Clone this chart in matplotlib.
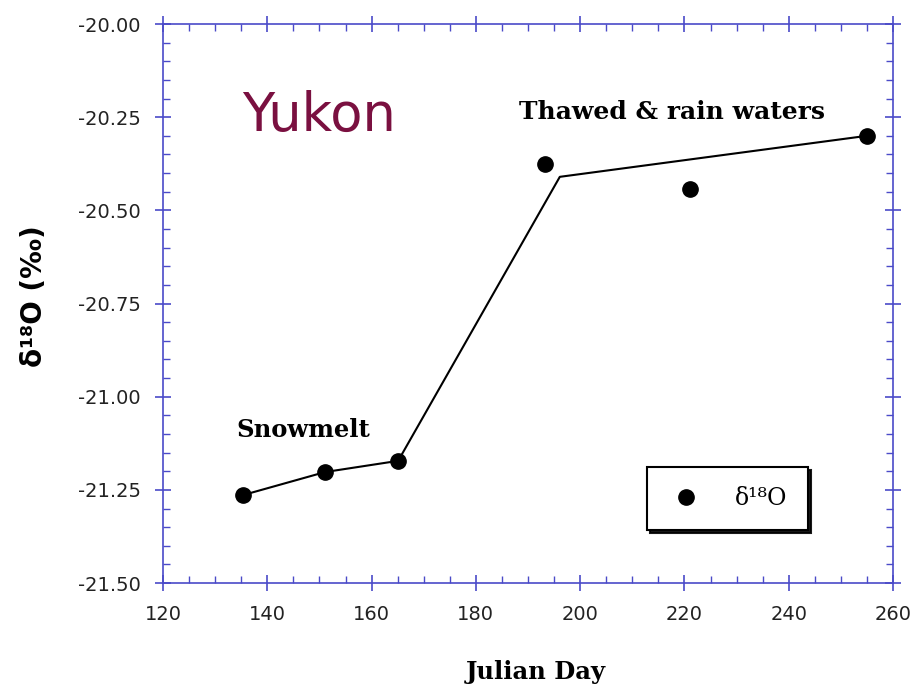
import matplotlib
matplotlib.use("Agg")
import matplotlib.pyplot as plt
from matplotlib.ticker import MultipleLocator, FormatStrFormatter

# Data
days = [135.3, 151.1, 165.1, 193.3, 221.0, 255.0]
d18o = [-21.264, -21.202, -21.172, -20.376, -20.443, -20.300]
fit_days = [135.3, 151.1, 165.1, 196.1, 255.0]
fit_d18o = [-21.264, -21.202, -21.172, -20.41, -20.300]

axis_color = "#4a4ac8"
serif = ["DejaVu Serif"]
sans = ["DejaVu Sans"]

fig = plt.figure(figsize=(9.23, 6.86), dpi=100)
ax = fig.add_axes([0.1766, 0.150, 0.7909, 0.815])

ax.plot(fit_days, fit_d18o, color="black", lw=1.5, zorder=2)
ax.plot(days, d18o, "o", color="black", markersize=11, zorder=3, label="δ¹⁸O")

ax.set_xlim(120, 260)
ax.set_ylim(-21.5, -20.0)
ax.xaxis.set_major_locator(MultipleLocator(20))
ax.xaxis.set_minor_locator(MultipleLocator(5))
ax.yaxis.set_major_locator(MultipleLocator(0.25))
ax.yaxis.set_minor_locator(MultipleLocator(0.05))
ax.yaxis.set_major_formatter(FormatStrFormatter("%.2f"))

for s in ax.spines.values():
    s.set_color(axis_color)
    s.set_linewidth(1.2)
ax.tick_params(which="both", top=True, right=True, color=axis_color,
               labelsize=14, labelcolor="#222222", labelfontfamily="DejaVu Sans")
ax.tick_params(which="major", direction="inout", length=12, width=1.2)
ax.tick_params(axis="y", which="major", pad=10)
ax.tick_params(axis="x", which="major", pad=10)
ax.tick_params(which="minor", direction="in", length=5, width=1.0)

ax.set_xlabel("Julian Day", fontfamily=serif, fontweight="bold",
              fontsize=17.5, labelpad=26)
ax.xaxis.label.set_x(0.51)
ax.set_ylabel("δ¹⁸O (‰)", fontfamily=sans, fontweight="bold", fontsize=20)
ax.yaxis.set_label_coords(-0.157, 0.513)

ax.text(0.108, 0.835, "Yukon", transform=ax.transAxes, fontsize=38,
        color="#7a1040", fontfamily=sans, va="center", ha="left")
ax.text(0.697, 0.843, "Thawed & rain waters", transform=ax.transAxes, fontsize=18,
        fontfamily=serif, fontweight="bold", va="center", ha="center")
ax.text(0.101, 0.274, "Snowmelt", transform=ax.transAxes, fontsize=17.5,
        fontfamily=serif, fontweight="bold", va="center", ha="left")

leg = ax.legend(loc="center", bbox_to_anchor=(0.773, 0.151), frameon=True,
                fancybox=False, shadow={"color": "black", "alpha": 0.9},
                prop={"family": serif, "size": 17},
                borderpad=0.85, handletextpad=1.3, handlelength=1.6, borderaxespad=0)
leg.get_frame().set_edgecolor("black")
leg.get_frame().set_linewidth(1.5)

fig.savefig("out.png", dpi=100)
